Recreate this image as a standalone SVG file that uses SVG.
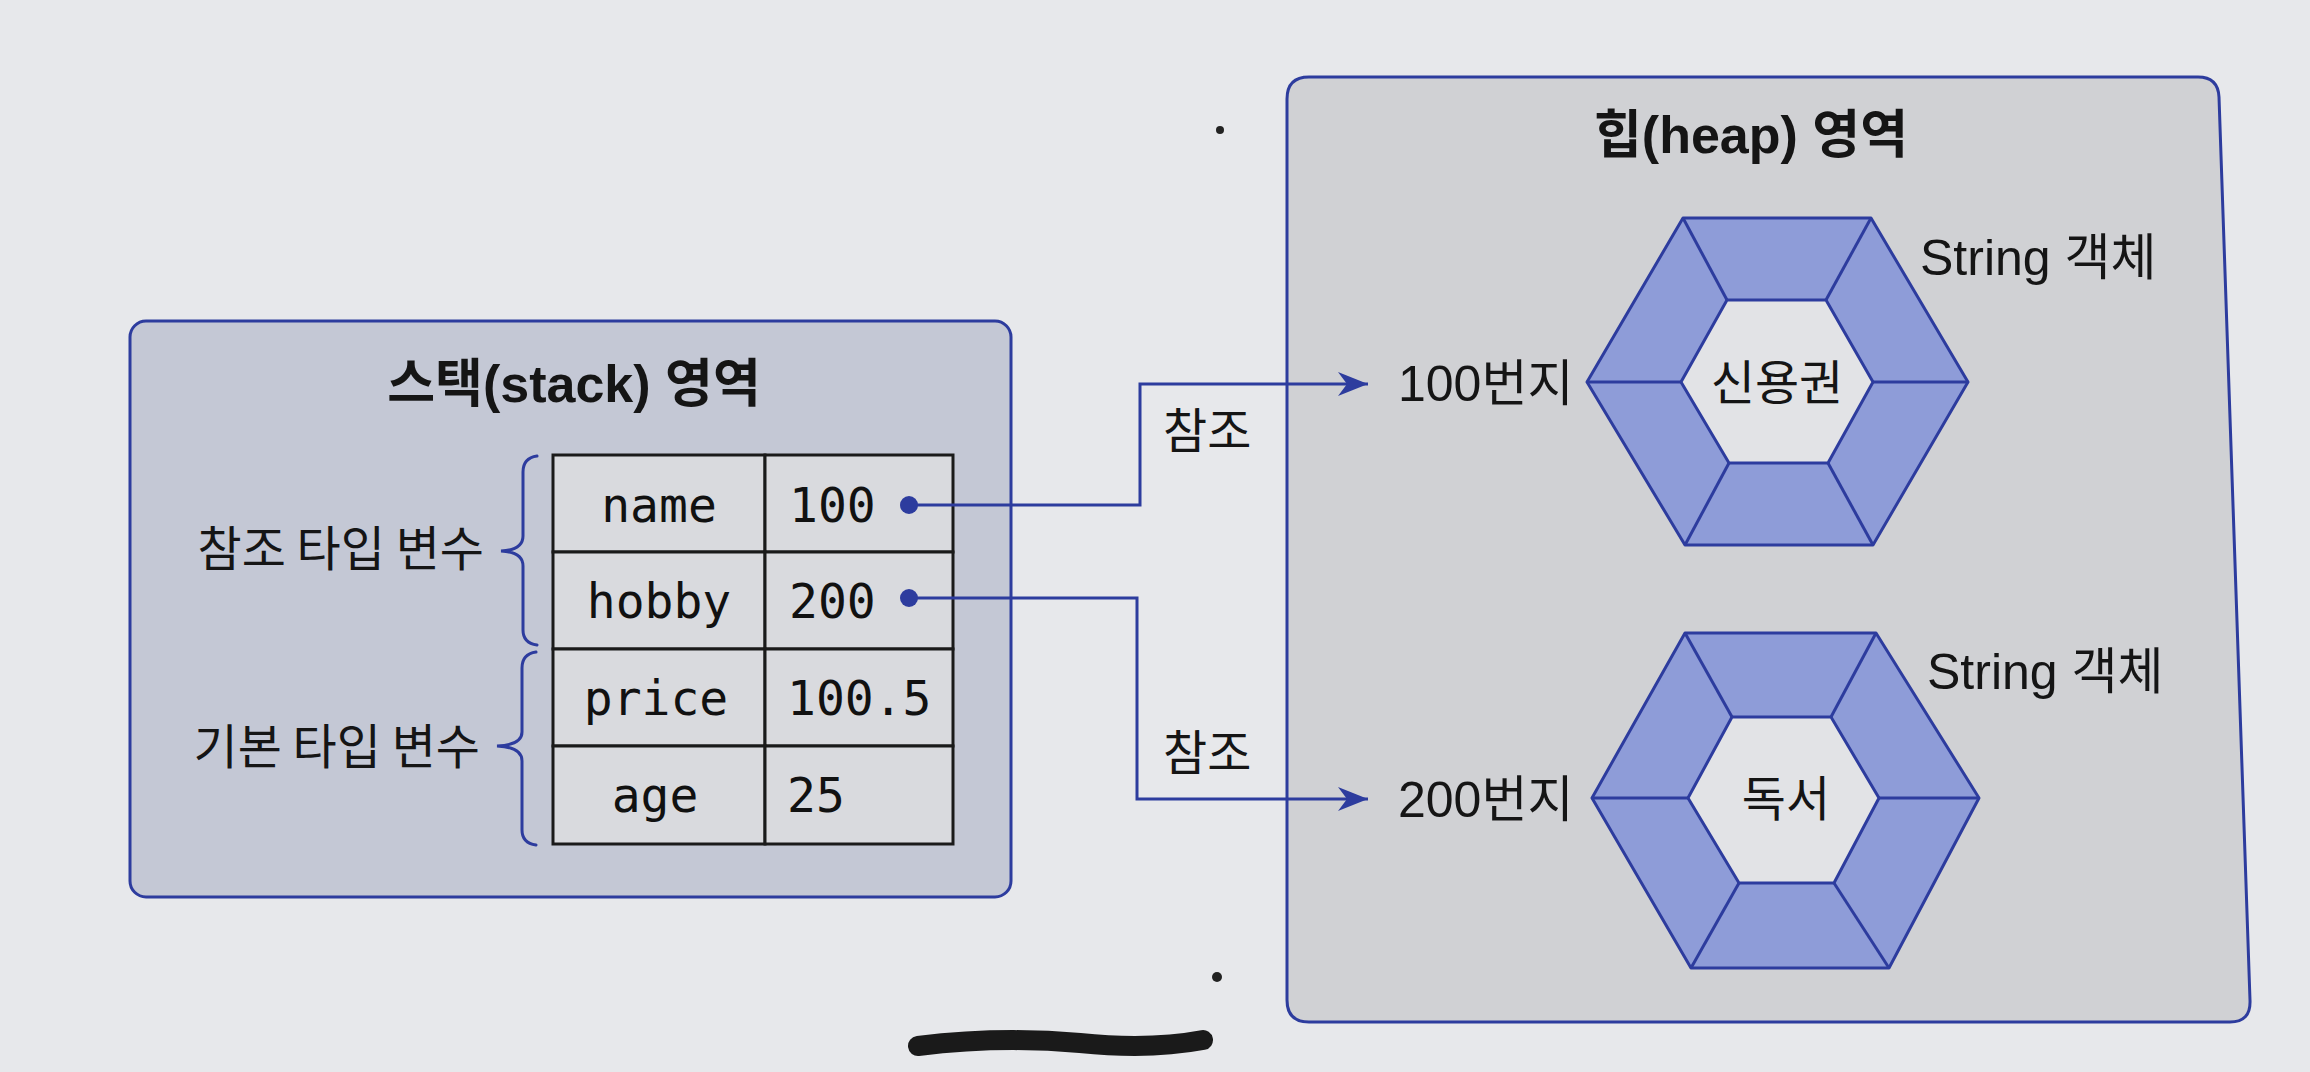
<svg xmlns="http://www.w3.org/2000/svg" width="2310" height="1072" viewBox="0 0 2310 1072">
<defs>
<style>
.box{stroke:#2d3c9e;stroke-width:3}
.cell{fill:#d9dade;stroke:#1a1a1a;stroke-width:3}
.hexo{fill:#8e9cd8;stroke:#2d3c9e;stroke-width:3;stroke-linejoin:round}
.hexi{fill:#e2e3e6;stroke:#2d3c9e;stroke-width:3;stroke-linejoin:round}
.spoke{stroke:#2d3c9e;stroke-width:3}
.wire{fill:none;stroke:#2d3c9e;stroke-width:3}
.brace{fill:none;stroke:#2d3c9e;stroke-width:3;stroke-linecap:round}
.title{font-family:"Liberation Sans","Noto Sans CJK KR",sans-serif;font-weight:bold;font-size:52px;fill:#151515}
.lbl{font-family:"Liberation Sans","Noto Sans CJK KR",sans-serif;font-size:50px;fill:#151515}
.kr{font-family:"Noto Sans CJK KR",sans-serif;font-size:48px;fill:#151515}
.mono{font-family:"DejaVu Sans Mono","Liberation Mono",monospace;font-size:48px;fill:#111}
</style>
<marker id="arr" viewBox="0 0 30 24" refX="30" refY="12" markerWidth="30" markerHeight="24" markerUnits="userSpaceOnUse" orient="auto">
<path d="M0,0 L30,12 L0,24 L9,12 Z" fill="#2d3c9e"/>
</marker>
</defs>

<rect x="0" y="0" width="2310" height="1072" fill="#e7e8eb"/>

<g id="stack-area">
<rect class="box" x="130" y="321" width="881" height="576" rx="16" fill="#c4c8d5"/>
<text class="title" x="574" y="402" text-anchor="middle">스택(stack) 영역</text>
</g>

<g id="heap-area">
<path class="box" fill="#d0d1d4" d="M1309,77 L2198,77 Q2218,77 2219,97 L2250,1000 Q2251,1022 2230,1022 L1309,1022 Q1287,1022 1287,1000 L1287,99 Q1287,77 1309,77 Z"/>
<text class="title" x="1751" y="153" text-anchor="middle">힙(heap) 영역</text>
</g>

<g id="var-table">
<rect class="cell" x="553" y="455" width="212" height="97"/>
<rect class="cell" x="765" y="455" width="188" height="97"/>
<rect class="cell" x="553" y="552" width="212" height="97"/>
<rect class="cell" x="765" y="552" width="188" height="97"/>
<rect class="cell" x="553" y="649" width="212" height="97"/>
<rect class="cell" x="765" y="649" width="188" height="97"/>
<rect class="cell" x="553" y="746" width="212" height="98"/>
<rect class="cell" x="765" y="746" width="188" height="98"/>
<text class="mono" x="659" y="522" text-anchor="middle">name</text>
<text class="mono" x="789" y="522">100</text>
<text class="mono" x="659" y="618" text-anchor="middle">hobby</text>
<text class="mono" x="789" y="618">200</text>
<text class="mono" x="656" y="715" text-anchor="middle">price</text>
<text class="mono" x="787" y="715">100.5</text>
<text class="mono" x="655" y="812" text-anchor="middle">age</text>
<text class="mono" x="787" y="812">25</text>
<circle cx="909" cy="505" r="9" fill="#2d3c9e"/>
<circle cx="909" cy="598" r="9" fill="#2d3c9e"/>
</g>

<g id="ref-brace">
<path class="brace" d="M537,456 Q523,458 523,472 L523,536 Q523,550 501,551 Q523,552 523,566 L523,630 Q523,643 537,645"/>
<text class="kr" x="484" y="566" text-anchor="end">참조 타입 변수</text>
</g>
<g id="prim-brace">
<path class="brace" d="M536,652 Q522,654 522,668 L522,732 Q522,745 497,746 Q522,747 522,761 L522,830 Q522,843 536,845"/>
<text class="kr" x="480" y="764" text-anchor="end">기본 타입 변수</text>
</g>

<g id="hex-100">
<polygon class="hexo" points="1683,218 1871,218 1968,382 1873,545 1685,545 1587,382"/>
<polygon class="hexi" points="1727,300 1826,300 1873,382 1828,463 1729,463 1681,382"/>
<line class="spoke" x1="1683" y1="218" x2="1727" y2="300"/>
<line class="spoke" x1="1871" y1="218" x2="1826" y2="300"/>
<line class="spoke" x1="1968" y1="382" x2="1873" y2="382"/>
<line class="spoke" x1="1873" y1="545" x2="1828" y2="463"/>
<line class="spoke" x1="1685" y1="545" x2="1729" y2="463"/>
<line class="spoke" x1="1587" y1="382" x2="1681" y2="382"/>
<text class="kr" x="1777" y="400" text-anchor="middle">신용권</text>
<text class="lbl" x="1398" y="401">100번지</text>
<text class="lbl" x="1920" y="275">String 객체</text>
</g>

<g id="hex-200">
<polygon class="hexo" points="1685,633 1876,633 1979,798 1889,968 1691,968 1592,798"/>
<polygon class="hexi" points="1732,717 1831,717 1879,798 1834,883 1739,883 1688,798"/>
<line class="spoke" x1="1685" y1="633" x2="1732" y2="717"/>
<line class="spoke" x1="1876" y1="633" x2="1831" y2="717"/>
<line class="spoke" x1="1979" y1="798" x2="1879" y2="798"/>
<line class="spoke" x1="1889" y1="968" x2="1834" y2="883"/>
<line class="spoke" x1="1691" y1="968" x2="1739" y2="883"/>
<line class="spoke" x1="1592" y1="798" x2="1688" y2="798"/>
<text class="kr" x="1786" y="816" text-anchor="middle">독서</text>
<text class="lbl" x="1398" y="817">200번지</text>
<text class="lbl" x="1927" y="689">String 객체</text>
</g>

<g id="connectors">
<path class="wire" d="M909,505 L1140,505 L1140,384 L1368,384" marker-end="url(#arr)"/>
<path class="wire" d="M909,598 L1137,598 L1137,799 L1368,799" marker-end="url(#arr)"/>
<text class="kr" x="1163" y="448" font-size="46">참조</text>
<text class="kr" x="1163" y="770" font-size="46">참조</text>
</g>

<g id="marks">
<circle cx="1220" cy="130" r="4" fill="#222"/>
<circle cx="1217" cy="977" r="5" fill="#222"/>
<path d="M918,1046 Q1000,1036 1080,1043 Q1150,1050 1203,1040" fill="none" stroke="#1a1a1a" stroke-width="20" stroke-linecap="round"/>
</g>
</svg>
